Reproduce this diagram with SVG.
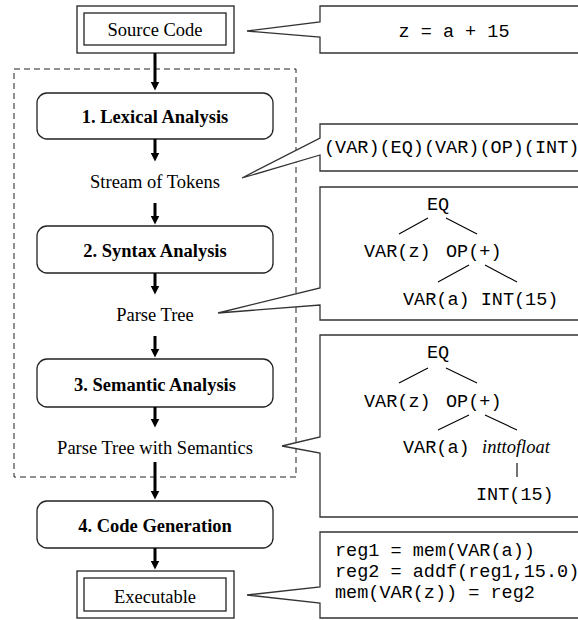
<svg xmlns="http://www.w3.org/2000/svg" width="578" height="620" viewBox="0 0 578 620">
<style>
.serif{font-family:"Liberation Serif","Times New Roman",serif;font-size:18.5px;fill:#000}
.bold{font-weight:bold}
.mono{font-family:"Liberation Mono","Courier New",monospace;font-size:18.5px;fill:#000}
.ital{font-family:"Liberation Serif","Times New Roman",serif;font-style:italic;font-size:18.5px;fill:#000}
.box{fill:#fff;stroke:#222;stroke-width:1.3}
.call{fill:#fff;stroke:#333;stroke-width:1.3}
.tree{stroke:#000;stroke-width:1.1;fill:none}
.arr{stroke:#000;stroke-width:3;fill:none;marker-end:url(#ah)}
.dash{fill:none;stroke:#222;stroke-width:1;stroke-dasharray:6,4}
</style>
<defs>
<marker id="ah" markerUnits="userSpaceOnUse" markerWidth="9" markerHeight="9" refX="0.5" refY="4.5" orient="auto">
<path d="M0,0 L9,4.5 L0,9 z" fill="#000"/>
</marker>
</defs>
<rect width="578" height="620" fill="#fff"/>

<rect id="frontend" class="dash" x="14" y="69" width="282" height="408"/>

<g id="source">
<rect class="box" x="77" y="6" width="157" height="47"/>
<rect class="box" x="84" y="13" width="142" height="32"/>
<text class="serif" x="155" y="36" text-anchor="middle">Source Code</text>
</g>

<g id="lexical">
<rect class="box" x="37" y="93" width="236" height="46" rx="10"/>
<text class="serif bold" x="155" y="123" text-anchor="middle">1. Lexical Analysis</text>
</g>

<g id="tokens">
<text class="serif" x="155" y="188" text-anchor="middle">Stream of Tokens</text>
</g>

<g id="syntax">
<rect class="box" x="37" y="226" width="236" height="47" rx="10"/>
<text class="serif bold" x="155" y="257" text-anchor="middle">2. Syntax Analysis</text>
</g>

<g id="parsetree">
<text class="serif" x="155" y="321" text-anchor="middle">Parse Tree</text>
</g>

<g id="semantic">
<rect class="box" x="37" y="359" width="236" height="48" rx="10"/>
<text class="serif bold" x="155" y="391" text-anchor="middle">3. Semantic Analysis</text>
</g>

<g id="semtree">
<text class="serif" x="155" y="454" text-anchor="middle">Parse Tree with Semantics</text>
</g>

<g id="codegen">
<rect class="box" x="37" y="501" width="236" height="47" rx="10"/>
<text class="serif bold" x="155" y="532" text-anchor="middle">4. Code Generation</text>
</g>

<g id="executable">
<rect class="box" x="77" y="571" width="157" height="47"/>
<rect class="box" x="84" y="578" width="142" height="33"/>
<text class="serif" x="155" y="603" text-anchor="middle">Executable</text>
</g>

<g id="connectors">
<line class="arr" x1="155" y1="53" x2="155" y2="82"/>
<line class="arr" x1="155" y1="139" x2="155" y2="153"/>
<line class="arr" x1="155" y1="203" x2="155" y2="216"/>
<line class="arr" x1="155" y1="273" x2="155" y2="286"/>
<line class="arr" x1="155" y1="336" x2="155" y2="349"/>
<line class="arr" x1="155" y1="407" x2="155" y2="419"/>
<line class="arr" x1="155" y1="462" x2="155" y2="491"/>
<line class="arr" x1="155" y1="548" x2="155" y2="561"/>
</g>

<g id="callout-source">
<path class="call" d="M600,6 H320 V22 L247,31 L320,37 V53 H600"/>
<text class="mono" x="454" y="37" text-anchor="middle">z = a + 15</text>
</g>

<g id="callout-tokens">
<path class="call" d="M600,124 H320 V138 L242,178 L320,155 V171 H600"/>
<text class="mono" x="324" y="153">(VAR)(EQ)(VAR)(OP)(INT)</text>
</g>

<g id="callout-parse">
<path class="call" d="M600,187 H320 V288 L218,313 L320,305 V320 H600"/>
<text class="mono" x="438" y="210" text-anchor="middle">EQ</text>
<path class="tree" d="M428,218 L399,234 M446,218 L477,234 M469,265 L438,282 M485,265 L517,282"/>
<text class="mono" x="364" y="257">VAR(z)</text>
<text class="mono" x="446" y="257">OP(+)</text>
<text class="mono" x="403" y="305">VAR(a) INT(15)</text>
</g>

<g id="callout-sem">
<path class="call" d="M600,335 H320 V437 L282,446 L320,453 V517 H600"/>
<text class="mono" x="438" y="358" text-anchor="middle">EQ</text>
<path class="tree" d="M428,368 L399,383 M446,368 L477,383 M469,415 L438,430 M485,415 L517,430 M517,463 V477"/>
<text class="mono" x="364" y="407">VAR(z)</text>
<text class="mono" x="446" y="407">OP(+)</text>
<text class="mono" x="403" y="453">VAR(a)</text>
<text class="ital" x="482" y="453">inttofloat</text>
<text class="mono" x="476" y="500">INT(15)</text>
</g>

<g id="callout-code">
<path class="call" d="M600,532 H320 V587 L247,595 L320,603 V618 H600"/>
<text class="mono" x="335" y="556">reg1 = mem(VAR(a))</text>
<text class="mono" x="335" y="577">reg2 = addf(reg1,15.0)</text>
<text class="mono" x="335" y="598">mem(VAR(z)) = reg2</text>
</g>
</svg>
